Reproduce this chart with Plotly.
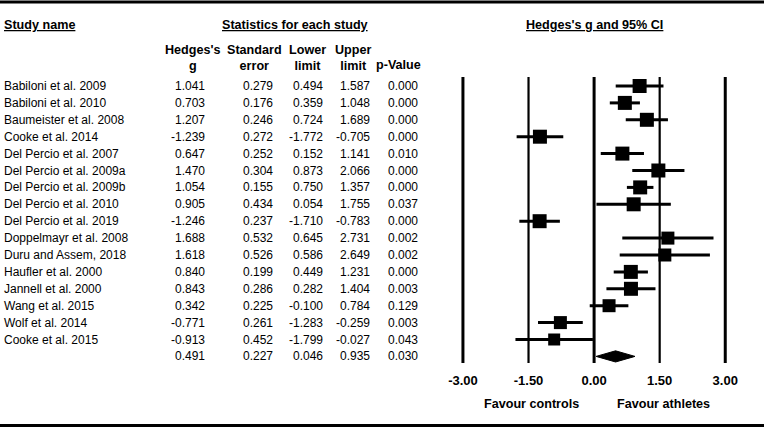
import plotly.graph_objects as go

# Datos del forest plot
studies = [
    "Babiloni et al. 2009", "Babiloni et al. 2010", "Baumeister et al. 2008",
    "Cooke et al. 2014", "Del Percio et al. 2007", "Del Percio et al. 2009a",
    "Del Percio et al. 2009b", "Del Percio et al. 2010", "Del Percio et al. 2019",
    "Doppelmayr et al. 2008", "Duru and Assem, 2018", "Haufler et al. 2000",
    "Jannell et al. 2000", "Wang et al. 2015", "Wolf et al. 2014", "Cooke et al. 2015",
]
hedges_g = [1.041, 0.703, 1.207, -1.239, 0.647, 1.470, 1.054, 0.905, -1.246,
            1.688, 1.618, 0.840, 0.843, 0.342, -0.771, -0.913]
std_err = [0.279, 0.176, 0.246, 0.272, 0.252, 0.304, 0.155, 0.434, 0.237,
           0.532, 0.526, 0.199, 0.286, 0.225, 0.261, 0.452]
lower = [0.494, 0.359, 0.724, -1.772, 0.152, 0.873, 0.750, 0.054, -1.710,
         0.645, 0.586, 0.449, 0.282, -0.100, -1.283, -1.799]
upper = [1.587, 1.048, 1.689, -0.705, 1.141, 2.066, 1.357, 1.755, -0.783,
         2.731, 2.649, 1.231, 1.404, 0.784, -0.259, -0.027]
p_value = [0.000, 0.000, 0.000, 0.000, 0.010, 0.000, 0.000, 0.037, 0.000,
           0.002, 0.002, 0.000, 0.003, 0.129, 0.003, 0.043]

# Efecto combinado
pooled = dict(g=0.491, se=0.227, lower=0.046, upper=0.935, p=0.030)

tick_vals = [-3.0, -1.5, 0.0, 1.5, 3.0]
tick_text = ["-3.00", "-1.50", "0.00", "1.50", "3.00"]

# Estilo
W, H = 764, 430
FONT = "Liberation Sans, Arial, sans-serif"
box_px = [14, 14, 14, 14, 14, 14, 14, 14, 14, 13, 13, 14, 14, 13, 13, 12]


def py(px):
    """pixel vertical -> coordenada paper"""
    return 1 - px / H


def pxx(px):
    return px / W


rows = list(range(len(studies)))
pooled_row = len(studies)

fig = go.Figure()

# Estudios individuales: cuadrado + IC 95%
fig.add_trace(go.Scatter(
    x=hedges_g, y=rows, mode="markers",
    marker=dict(symbol="square", size=box_px, color="black", opacity=1, line=dict(width=0)),
    error_x=dict(type="data", symmetric=False,
                 array=[u - g for u, g in zip(upper, hedges_g)],
                 arrayminus=[g - l for g, l in zip(hedges_g, lower)],
                 color="black", thickness=3, width=0),
    showlegend=False, hoverinfo="skip",
))

# Diamante del efecto combinado
half_h = 0.33
fig.add_trace(go.Scatter(
    x=[pooled["lower"], pooled["g"], pooled["upper"], pooled["g"], pooled["lower"]],
    y=[pooled_row, pooled_row - half_h, pooled_row, pooled_row + half_h, pooled_row],
    mode="lines", fill="toself", fillcolor="black",
    line=dict(color="black", width=1), showlegend=False, hoverinfo="skip",
))

# Lineas verticales de referencia
for v in tick_vals:
    fig.add_shape(type="line", xref="x", yref="y domain", x0=v, x1=v, y0=0, y1=1,
                  line=dict(color="black", width=3 if v in (-3.0, 0.0, 3.0) else 2.2))

# Lineas horizontales superior e inferior
fig.add_shape(type="line", xref="paper", yref="paper", x0=0, x1=1, y0=py(2), y1=py(2),
              line=dict(color="black", width=3))
fig.add_shape(type="line", xref="paper", yref="paper", x0=0, x1=1, y0=py(425.5), y1=py(425.5),
              line=dict(color="black", width=3))

ann = []


def text(x, y, t, xanchor="left", bold=False, yref="paper"):
    ann.append(dict(x=x, y=y, xref="paper", yref=yref, text=f"<b>{t}</b>" if bold else t,
                    showarrow=False, xanchor=xanchor, yanchor="middle",
                    font=dict(family=FONT, size=12.6 if bold else 12, color="black"),
                    align="center"))


# Encabezados
text(pxx(2), py(25), "<u>Study name</u>", bold=True)
text(pxx(294.5), py(25), "<u>Statistics for each study</u>", "center", bold=True)
text(pxx(594), py(25), "<u>Hedges's g and 95% CI</u>", "center", bold=True)
text(pxx(193), py(57.5), "Hedges's<br>g", "center", bold=True)
text(pxx(254), py(57.5), "Standard<br>error", "center", bold=True)
text(pxx(307), py(57.5), "Lower<br>limit", "center", bold=True)
text(pxx(353), py(57.5), "Upper<br>limit", "center", bold=True)
text(pxx(399), py(65), "p-Value", "center", bold=True)

# Columnas de la tabla
col_right = [207, 275, 325, 372, 420]
for i in rows:
    text(pxx(2), i, studies[i], yref="y")
    vals = [hedges_g[i], std_err[i], lower[i], upper[i], p_value[i]]
    for xr, v in zip(col_right, vals):
        text(pxx(xr), i, f"{v:.3f}", "right", yref="y")
for xr, v in zip(col_right, [pooled["g"], pooled["se"], pooled["lower"], pooled["upper"], pooled["p"]]):
    text(pxx(xr), pooled_row, f"{v:.3f}", "right", yref="y")

# Etiquetas de direccion
text(pxx(531.5), py(404), "Favour controls", "center", bold=True)
text(pxx(663), py(404), "Favour athletes", "center", bold=True)

# Escalas: 43.72 px por unidad, cero en x=594
ppu, x0px = 43.72, 594.1
y_top, y_bot, row0, row_h = 77, 363, 86, 16.9

fig.update_layout(
    width=W, height=H,
    margin=dict(l=0, r=0, t=0, b=0),
    paper_bgcolor="white", plot_bgcolor="white",
    annotations=ann,
    xaxis=dict(domain=[440 / W, 1], range=[(440 - x0px) / ppu, (W - x0px) / ppu],
               showgrid=False, zeroline=False, showline=False,
               tickvals=tick_vals, ticktext=[f"<b>{t}</b>" for t in tick_text],
               ticks="outside", ticklen=5, tickcolor="rgba(0,0,0,0)",
               tickfont=dict(family=FONT, size=13, color="black"), fixedrange=True),
    yaxis=dict(domain=[py(y_bot), py(y_top)],
               range=[(y_bot - row0) / row_h, (y_top - row0) / row_h],
               showgrid=False, zeroline=False, showline=False, showticklabels=False,
               ticks="", fixedrange=True),
)

# quitar el margen por defecto del body para que la figura empiece en (0, 0)
fig.write_html("out.html", config={"displayModeBar": False},
               post_script="document.body.style.margin='0';document.body.style.overflow='hidden';")
